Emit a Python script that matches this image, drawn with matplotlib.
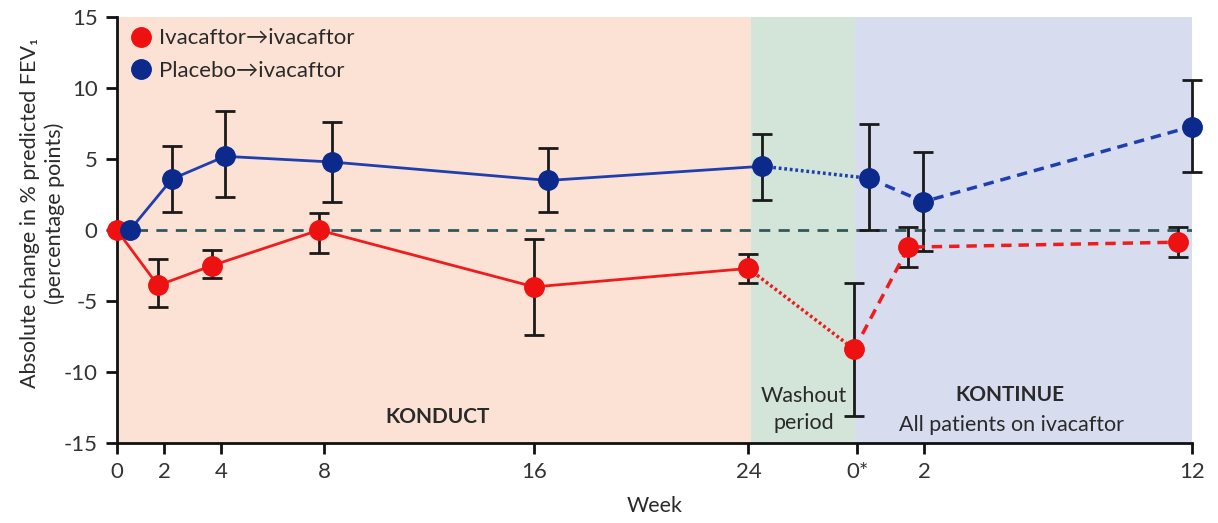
#!/usr/bin/env python3
"""KONDUCT / KONTINUE FEV1 change over time"""

import matplotlib
matplotlib.use("Agg")
import matplotlib.pyplot as plt
from matplotlib.lines import Line2D

plt.rcParams['font.family'] = ['Lato', 'DejaVu Sans']
plt.rcParams['axes.unicode_minus'] = False

# tick positions on the shared time axis and their labels
tick_pos = [0, 1.79, 3.95, 7.87, 15.86, 24.0, 28.14, 30.68, 40.87]
tick_labels = ['0', '2', '4', '8', '16', '24', '0*', '2', '12']

# Ivacaftor -> ivacaftor (red)
iva_x = [0, 1.56, 3.61, 7.68, 15.86, 23.99, 28.02, 30.08, 40.34]
iva_y = [0, -3.9, -2.5, 0.0, -4.0, -2.7, -8.4, -1.2, -0.85]
iva_lo = [0, -5.4, -3.4, -1.6, -7.4, -3.7, -13.1, -2.6, -1.9]
iva_hi = [0, -2.0, -1.4, 1.2, -0.6, -1.7, -3.7, 0.2, 0.2]

# Placebo -> ivacaftor (blue)
pbo_x = [0.49, 2.09, 4.11, 8.17, 16.39, 24.52, 28.59, 30.65, 40.84]
pbo_y = [0, 3.6, 5.2, 4.8, 3.5, 4.5, 3.65, 2.0, 7.3]
pbo_lo = [0, 1.3, 2.3, 2.0, 1.3, 2.1, 0.0, -1.5, 4.1]
pbo_hi = [0, 5.9, 8.4, 7.6, 5.8, 6.8, 7.5, 5.5, 10.6]

# study phases (start, end) on the time axis
phase_konduct = (0, 24.1)
phase_washout = (24.1, 28.06)
phase_kontinue = (28.06, 40.9)

RED = '#ee1111'
BLUE = '#0b2a8c'
TXT = '#2a2a2a'


def draw_series(ax, x, y, lo, hi, marker_color, line_color):
    yerr_lo = [v - l for v, l in zip(y, lo)]
    yerr_hi = [h - v for v, h in zip(y, hi)]
    has_err = [i for i in range(len(x)) if yerr_lo[i] > 0 or yerr_hi[i] > 0]
    ax.errorbar([x[i] for i in has_err], [y[i] for i in has_err],
                yerr=[[yerr_lo[i] for i in has_err], [yerr_hi[i] for i in has_err]],
                fmt='none', ecolor='#1a1a1a', elinewidth=2, capsize=7,
                capthick=2, zorder=3, clip_on=False)
    # solid during KONDUCT, dotted over washout, dashed in KONTINUE
    ax.plot(x[:6], y[:6], '-', color=line_color, lw=2, zorder=4)
    ax.plot(x[5:7], y[5:7], color=line_color, lw=2.5, zorder=4,
            dashes=(0.8, 0.8))
    ax.plot(x[6:], y[6:], color=line_color, lw=2.5, zorder=4,
            dashes=(3, 2))
    ax.plot(x, y, 'o', color=marker_color, ms=14, zorder=5, clip_on=False)


fig = plt.figure(figsize=(12.18, 5.23), dpi=100)
ax = fig.add_axes([0.096, 0.153, 0.883, 0.814])

ax.axvspan(*phase_konduct, color='#fce2d5', lw=0, zorder=0)
ax.axvspan(*phase_washout, color='#d3e4d8', lw=0, zorder=0)
ax.axvspan(*phase_kontinue, color='#d7dcef', lw=0, zorder=0)

ax.axhline(0, color='#34565a', lw=2, dashes=(4, 3), zorder=2)

draw_series(ax, iva_x, iva_y, iva_lo, iva_hi, RED, '#ee1c1c')
draw_series(ax, pbo_x, pbo_y, pbo_lo, pbo_hi, BLUE, '#1f3fae')

ax.set_xlim(0, 40.87)
ax.set_ylim(-15, 15)
ax.set_xticks(tick_pos)
ax.set_xticklabels(tick_labels)
ax.set_yticks([-15, -10, -5, 0, 5, 10, 15])
ax.tick_params(direction='out', length=8, width=2, labelsize=16,
               color='#111111', labelcolor='#333333', pad=6)
for side in ['top', 'right']:
    ax.spines[side].set_visible(False)
for side in ['left', 'bottom']:
    ax.spines[side].set_linewidth(2)
    ax.spines[side].set_color('#111111')

ax.set_xlabel('Week', fontsize=15.5, labelpad=10, color=TXT)
ax.set_ylabel('Absolute change in % predicted FEV\u2081\n(percentage points)',
              fontsize=15.5, color=TXT, linespacing=1.3)
ax.yaxis.set_label_coords(-0.048, 0.54)

ax.text(12.2, -13.2, 'KONDUCT', fontsize=15, fontweight='bold',
        ha='center', va='center', color=TXT)
ax.text(26.1, -12.65, 'Washout\nperiod', fontsize=15.5, ha='center',
        va='center', color=TXT, linespacing=1.4)
ax.text(33.95, -11.6, 'KONTINUE', fontsize=15, fontweight='bold',
        ha='center', va='center', color=TXT)
ax.text(34.0, -13.7, 'All patients on ivacaftor', fontsize=15.5,
        ha='center', va='center', color=TXT)

handles = [
    Line2D([], [], marker='o', ls='none', color=RED, ms=14,
           label='Ivacaftor\u2192ivacaftor'),
    Line2D([], [], marker='o', ls='none', color=BLUE, ms=14,
           label='Placebo\u2192ivacaftor'),
]
leg = ax.legend(handles=handles, loc='upper left', frameon=False, fontsize=16,
                handletextpad=0.2, borderaxespad=0.2, labelspacing=0.55,
                borderpad=0.3, handlelength=1.2)
for t in leg.get_texts():
    t.set_color(TXT)

plt.savefig('out.png', dpi=100)
plt.close()
